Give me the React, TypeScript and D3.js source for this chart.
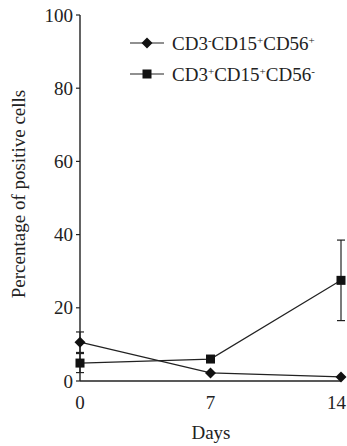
import React from "react";
import * as d3 from "d3";

const days = [0, 7, 14];
const seriesA = [10.6, 2.2, 1.1]; // CD3-CD15+CD56+
const errA = [2.8, 0, 0];
const seriesB = [4.9, 6.0, 27.5]; // CD3+CD15+CD56-
const errB = [2.6, 0, 11];
const yTicks = [0, 20, 40, 60, 80, 100];

const W = 347, H = 446;
const x0 = 80, x1 = 341, yTop = 15, yBot = 381;

export default function App() {
  const x = d3.scaleLinear().domain([0, 14]).range([x0, x1]);
  const y = d3.scaleLinear().domain([0, 100]).range([yBot, yTop]);
  const line = d3.line<number>().x((_, i) => x(days[i])).y((d) => y(d));
  const font = "'Liberation Serif', 'DejaVu Serif', serif";
  const col = "#222";
  const fs = 19;
  const sup = 11;
  const diamond = (cx: number, cy: number, r = 5.5) =>
    `M${cx},${cy - r}L${cx + r},${cy}L${cx},${cy + r}L${cx - r},${cy}Z`;
  const errBar = (i: number, v: number, e: number, key: string) =>
    e > 0 ? (
      <g key={key} stroke={col} strokeWidth={1.2}>
        <line x1={x(days[i])} x2={x(days[i])} y1={y(v - e)} y2={y(v + e)} />
        <line x1={x(days[i]) - 4} x2={x(days[i]) + 4} y1={y(v + e)} y2={y(v + e)} />
        <line x1={x(days[i]) - 4} x2={x(days[i]) + 4} y1={y(v - e)} y2={y(v - e)} />
      </g>
    ) : null;
  return (
    <svg width={W} height={H} style={{ position: "absolute", left: 0, top: 0 }}>
      <rect width={W} height={H} fill="#fff" />
      {/* axes */}
      <line x1={x0} x2={x0} y1={yTop} y2={yBot} stroke={col} strokeWidth={1.4} />
      <line x1={x0} x2={x1} y1={yBot} y2={yBot} stroke={col} strokeWidth={1.4} />
      {yTicks.map((t) => (
        <g key={t}>
          <line x1={x0 - 4} x2={x0} y1={y(t)} y2={y(t)} stroke={col} strokeWidth={1.2} />
          <text x={x0 - 7} y={y(t)} dy="0.35em" textAnchor="end" fontFamily={font} fontSize={fs} fill={col}>
            {t}
          </text>
        </g>
      ))}
      {days.map((d, i) => {
        const last = i === days.length - 1;
        return (
          <text
            key={d}
            x={last ? W - 1 : x(d)}
            y={402}
            dy="0.35em"
            textAnchor={last ? "end" : "middle"}
            fontFamily={font}
            fontSize={fs}
            fill={col}
          >
            {d}
          </text>
        );
      })}
      <text x={211} y={432} dy="0.35em" textAnchor="middle" fontFamily={font} fontSize={fs} fill={col}>
        Days
      </text>
      <text
        transform={`translate(18,194) rotate(-90)`}
        textAnchor="middle"
        dy="0.35em"
        fontFamily={font}
        fontSize={fs}
        fill={col}
      >
        Percentage of positive cells
      </text>
      {/* error bars */}
      {seriesA.map((v, i) => errBar(i, v, errA[i], "ea" + i))}
      {seriesB.map((v, i) => errBar(i, v, errB[i], "eb" + i))}
      {/* lines */}
      <path d={line(seriesA) || ""} fill="none" stroke={col} strokeWidth={1.2} />
      <path d={line(seriesB) || ""} fill="none" stroke={col} strokeWidth={1.2} />
      {seriesA.map((v, i) => (
        <path key={"a" + i} d={diamond(x(days[i]), y(v))} fill="#111" />
      ))}
      {seriesB.map((v, i) => (
        <rect key={"b" + i} x={x(days[i]) - 4.5} y={y(v) - 4.5} width={9} height={9} fill="#111" />
      ))}
      {/* legend */}
      <g>
        <line x1={130} x2={164} y1={43} y2={43} stroke={col} strokeWidth={1.2} />
        <path d={diamond(147, 43)} fill="#111" />
        <text x={172} y={43} dy="0.35em" fontFamily={font} fontSize={fs} fill={col}>
          CD3<tspan fontSize={sup} dy="-6">-</tspan>
          <tspan dy="6">CD15</tspan>
          <tspan fontSize={sup} dy="-6">+</tspan>
          <tspan dy="6">CD56</tspan>
          <tspan fontSize={sup} dy="-6">+</tspan>
        </text>
        <line x1={130} x2={164} y1={74} y2={74} stroke={col} strokeWidth={1.2} />
        <rect x={142.5} y={69.5} width={9} height={9} fill="#111" />
        <text x={172} y={74} dy="0.35em" fontFamily={font} fontSize={fs} fill={col}>
          CD3<tspan fontSize={sup} dy="-6">+</tspan>
          <tspan dy="6">CD15</tspan>
          <tspan fontSize={sup} dy="-6">+</tspan>
          <tspan dy="6">CD56</tspan>
          <tspan fontSize={sup} dy="-6">-</tspan>
        </text>
      </g>
    </svg>
  );
}
